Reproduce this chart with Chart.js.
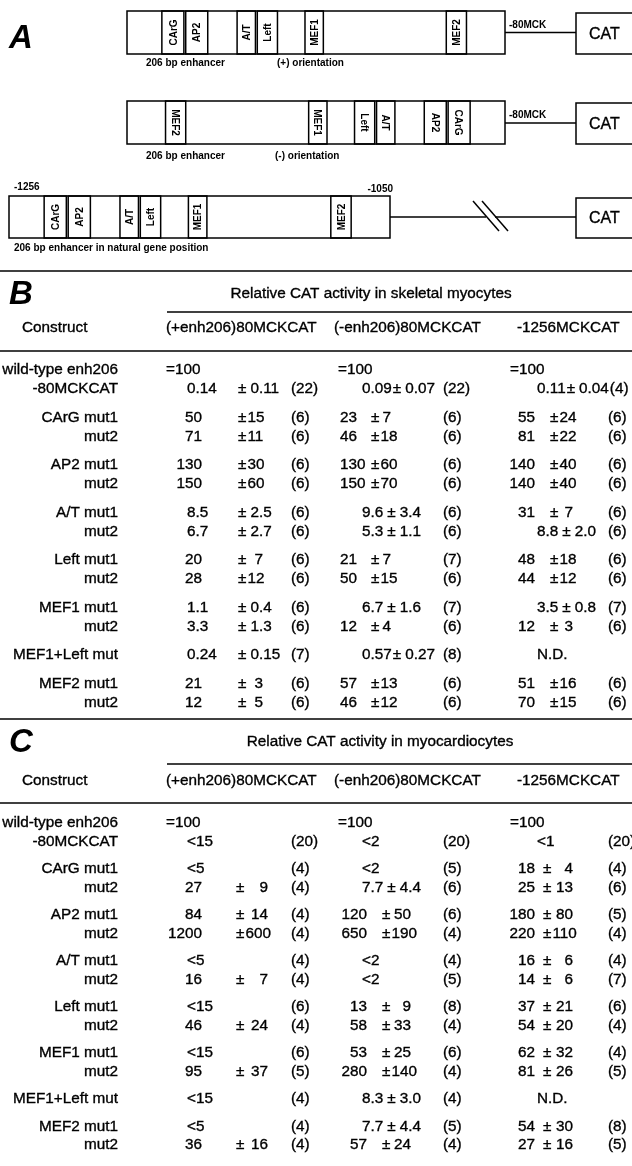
<!DOCTYPE html>
<html><head><meta charset="utf-8">
<script src="https://cdn.jsdelivr.net/npm/chart.js@4.4.0/dist/chart.umd.min.js"></script>
<style>html,body{margin:0;padding:0;background:#fff;}canvas{display:block}</style>
</head><body>
<canvas id="c" width="632" height="1166"></canvas>
<script>
// ---------- DATA ----------
const enhancerElements = ['CArG', 'AP2', 'A/T', 'Left', 'MEF1', 'MEF2'];
const elementStartBp = [19, 32, 60, 71, 97, 174];
const elementEndBp = [31, 44, 70, 82, 107, 185];
const enhancerLengthBp = 206;
const naturalStart = '-1256';
const naturalEnd = '-1050';

const constructs = ['wild-type enh206', '-80MCKCAT', 'CArG mut1', 'mut2', 'AP2 mut1', 'mut2',
  'A/T mut1', 'mut2', 'Left mut1', 'mut2', 'MEF1 mut1', 'mut2', 'MEF1+Left mut', 'MEF2 mut1', 'mut2'];
const rowGroups = [0, 0, 1, 1, 2, 2, 3, 3, 4, 4, 5, 5, 6, 7, 7];
const columnHeaders = ['(+enh206)80MCKCAT', '(-enh206)80MCKCAT', '-1256MCKCAT'];
const skeletalTitle = 'Relative CAT activity in skeletal myocytes';
const cardioTitle = 'Relative CAT activity in myocardiocytes';

// Panel B: skeletal myocytes
const skelPlusMean = ['=100', '0.14', '50', '71', '130', '150', '8.5', '6.7', '20', '28', '1.1', '3.3', '0.24', '21', '12'];
const skelPlusSD   = ['', '0.11', '15', '11', '30', '60', '2.5', '2.7', '7', '12', '0.4', '1.3', '0.15', '3', '5'];
const skelPlusN    = ['', '22', '6', '6', '6', '6', '6', '6', '6', '6', '6', '6', '7', '6', '6'];
const skelMinusMean = ['=100', '0.09', '23', '46', '130', '150', '9.6', '5.3', '21', '50', '6.7', '12', '0.57', '57', '46'];
const skelMinusSD   = ['', '0.07', '7', '18', '60', '70', '3.4', '1.1', '7', '15', '1.6', '4', '0.27', '13', '12'];
const skelMinusN    = ['', '22', '6', '6', '6', '6', '6', '6', '7', '6', '7', '6', '8', '6', '6'];
const skelNatMean = ['=100', '0.11', '55', '81', '140', '140', '31', '8.8', '48', '44', '3.5', '12', 'N.D.', '51', '70'];
const skelNatSD   = ['', '0.04', '24', '22', '40', '40', '7', '2.0', '18', '12', '0.8', '3', '', '16', '15'];
const skelNatN    = ['', '4', '6', '6', '6', '6', '6', '6', '6', '6', '7', '6', '', '6', '6'];

// Panel C: myocardiocytes
const cardPlusMean = ['=100', '<15', '<5', '27', '84', '1200', '<5', '16', '<15', '46', '<15', '95', '<15', '<5', '36'];
const cardPlusSD   = ['', '', '', '9', '14', '600', '', '7', '', '24', '', '37', '', '', '16'];
const cardPlusN    = ['', '20', '4', '4', '4', '4', '4', '4', '6', '4', '6', '5', '4', '4', '4'];
const cardMinusMean = ['=100', '<2', '<2', '7.7', '120', '650', '<2', '<2', '13', '58', '53', '280', '8.3', '7.7', '57'];
const cardMinusSD   = ['', '', '', '4.4', '50', '190', '', '', '9', '33', '25', '140', '3.0', '4.4', '24'];
const cardMinusN    = ['', '20', '5', '6', '6', '4', '4', '5', '8', '4', '6', '4', '4', '5', '4'];
const cardNatMean = ['=100', '<1', '18', '25', '180', '220', '16', '14', '37', '54', '62', '81', 'N.D.', '54', '27'];
const cardNatSD   = ['', '', '4', '13', '80', '110', '6', '6', '21', '20', '32', '26', '', '30', '16'];
const cardNatN    = ['', '20', '4', '6', '5', '4', '4', '7', '6', '4', '4', '5', '', '8', '5'];

// ---------- LAYOUT ----------
const FONT = '"Liberation Sans", Arial, Helvetica, sans-serif';
const TXT = 15.3;
const panelB = {top: 271, title: skeletalTitle, titleX: 371, letter: 'B', rowH: 19,
  dy: {letter: 24, title: 23, rule: 41, head: 57, rule2: 80, row: 99},
  heads: [166, 334, 517],
  cols: [
    {mean: skelPlusMean, sd: skelPlusSD, n: skelPlusN, a: {eq:166, dec:187, intR:202, pm:238, sdR:263, n:291}},
    {mean: skelMinusMean, sd: skelMinusSD, n: skelMinusN, a: {eq:338, dec:362, intL:340, pm:371, sdR:391, n:443}},
    {mean: skelNatMean, sd: skelNatSD, n: skelNatN, a: {eq:510, dec:537, intR:535, pm:550, sdR:573, n:608}}
  ]};
const panelC = {top: 719, title: cardioTitle, titleX: 380, letter: 'C', rowH: 18.4,
  dy: {letter: 24, title: 23, rule: 45, head: 62, rule2: 84, row: 104},
  heads: [166, 334, 517],
  cols: [
    {mean: cardPlusMean, sd: cardPlusSD, n: cardPlusN, a: {eq:166, dec:187, intR:202, pm:236, sdR:268, n:291}},
    {mean: cardMinusMean, sd: cardMinusSD, n: cardMinusN, a: {eq:338, dec:362, intR:367, pm:382, sdR:411, n:443}},
    {mean: cardNatMean, sd: cardNatSD, n: cardNatN, a: {eq:510, dec:537, intR:535, pm:543, sdR:573, n:608}}
  ]};

const figurePlugin = {
  id: 'figure',
  afterDraw(chart) {
    const ctx = chart.ctx;
    const X = v => chart.scales.x.getPixelForValue(v);
    const Y = v => chart.scales.y.getPixelForValue(v);
    ctx.save();
    ctx.fillStyle = '#000';
    ctx.strokeStyle = '#000';
    ctx.textBaseline = 'middle';

    const text = (s, x, y, align, font, heavy) => {
      ctx.font = font; ctx.textAlign = align || 'left';
      ctx.fillText(s, X(x), Y(y));
      if (heavy) { ctx.lineWidth = 0.35; ctx.strokeText(s, X(x), Y(y)); }
    };
    const hline = (x0, x1, y, w) => {
      ctx.lineWidth = w || 1.5;
      ctx.beginPath(); ctx.moveTo(X(x0), Y(y)); ctx.lineTo(X(x1), Y(y)); ctx.stroke();
    };
    const line = (x0, y0, x1, y1, w) => {
      ctx.lineWidth = w || 1.5;
      ctx.beginPath(); ctx.moveTo(X(x0), Y(y0)); ctx.lineTo(X(x1), Y(y1)); ctx.stroke();
    };
    const rect = (x0, y0, x1, y1) => {
      ctx.lineWidth = 1.5;
      ctx.strokeRect(X(x0), Y(y0), X(x1) - X(x0), Y(y1) - Y(y0));
    };

    // ----- Panel A -----
    const bold = s => 'bold ' + s + 'px ' + FONT;
    text('A', 9, 39, 'left', 'italic bold 33px ' + FONT);

    function drawEnhancer(left, right, top, bottom, reversed) {
      const w = right - left;
      const bpX = bp => reversed ? right - bp / enhancerLengthBp * w : left + bp / enhancerLengthBp * w;
      rect(left, top, right, bottom);
      enhancerElements.forEach((name, i) => {
        const a = bpX(elementStartBp[i]), b = bpX(elementEndBp[i]);
        const x0 = Math.min(a, b), x1 = Math.max(a, b);
        rect(x0, top, x1, bottom);
        ctx.save();
        ctx.translate(X((x0 + x1) / 2), Y((top + bottom) / 2));
        ctx.rotate(reversed ? Math.PI / 2 : -Math.PI / 2);
        ctx.font = bold(10); ctx.textAlign = 'center'; ctx.textBaseline = 'middle';
        ctx.fillText(name, 0, 1);
        ctx.restore();
      });
    }
    function drawCat(top, bottom) {
      rect(576, top, 633, bottom);
      text('CAT', 589, (top + bottom) / 2 + 1, 'left', '16px ' + FONT, true);
    }
    drawEnhancer(127, 505, 11, 54, false);
    hline(505, 576, 32.5);
    text('-80MCK', 509, 25, 'left', bold(10));
    drawCat(13, 54);
    text('206 bp enhancer', 146, 63, 'left', bold(10));
    text('(+) orientation', 277, 63, 'left', bold(10));

    drawEnhancer(127, 505, 101, 144, true);
    hline(505, 576, 123);
    text('-80MCK', 509, 115, 'left', bold(10));
    drawCat(103, 144);
    text('206 bp enhancer', 146, 156, 'left', bold(10));
    text('(-) orientation', 275, 156, 'left', bold(10));

    drawEnhancer(9, 390, 196, 238, false);
    text(naturalStart, 14, 187, 'left', bold(10));
    text(naturalEnd, 393, 189, 'right', bold(10));
    hline(390, 486, 217);
    hline(495, 576, 217);
    line(473, 201, 499, 231);
    line(482, 201, 508, 231);
    drawCat(198, 238);
    text('206 bp enhancer in natural gene position', 14, 248, 'left', bold(10));

    // ----- Tables -----
    const tf = TXT + 'px ' + FONT;
    function drawPanel(p) {
      const t = p.top, d = p.dy;
      const T = (s, x, y, align) => text(s, x, y, align, tf, true);
      hline(0, 632, t, 1.6);
      text(p.letter, 9, t + d.letter, 'left', 'italic bold 33px ' + FONT);
      T(p.title, p.titleX, t + d.title, 'center');
      hline(167, 632, t + d.rule, 1.4);
      T('Construct', 22, t + d.head, 'left');
      columnHeaders.forEach((h, i) => T(h, p.heads[i], t + d.head, 'left'));
      hline(0, 632, t + d.rule2, 1.4);
      const W = s => { ctx.font = tf; return ctx.measureText(s).width; };
      constructs.forEach((label, r) => {
        const y = t + d.row + (r + rowGroups[r] * 0.5) * p.rowH;
        T(label, 118, y, 'right');
        p.cols.forEach(col => {
          const a = col.a, m = col.mean[r], sd = col.sd[r], n = col.n[r];
          let end;
          if (m.startsWith('=')) { T(m, a.eq, y, 'left'); end = a.eq + W(m); }
          else if (/^\d+$/.test(m)) {
            if (a.intL !== undefined) { T(m, a.intL, y, 'left'); end = a.intL + W(m); }
            else { T(m, a.intR, y, 'right'); end = a.intR; }
          }
          else { T(m, a.dec, y, 'left'); end = a.dec + W(m); }
          if (sd) {
            const twoDecimals = /\.\d\d$/.test(m);
            const pmX = Math.max(a.pm, end + (twoDecimals ? 1 : 4));
            T('\u00b1', pmX, y, 'left');
            const gap = sd.includes('.') ? 4 : 1;
            const sdR = Math.max(a.sdR, pmX + W('\u00b1') + gap + W(sd));
            T(sd, sdR, y, 'right');
            end = sdR;
          }
          if (n) T('(' + n + ')', Math.max(a.n, end + 1), y, 'left');
        });
      });
    }
    drawPanel(panelB);
    drawPanel(panelC);
    ctx.restore();
  }
};

new Chart(document.getElementById('c'), {
  type: 'scatter',
  data: { datasets: [] },
  options: {
    responsive: false, animation: false, devicePixelRatio: 1,
    layout: { padding: 0 },
    plugins: { legend: { display: false }, tooltip: { enabled: false }, title: { display: false } },
    scales: {
      x: { type: 'linear', min: 0, max: 632, display: false },
      y: { type: 'linear', min: 0, max: 1166, reverse: true, display: false }
    }
  },
  plugins: [figurePlugin]
});
</script>
</body></html>
